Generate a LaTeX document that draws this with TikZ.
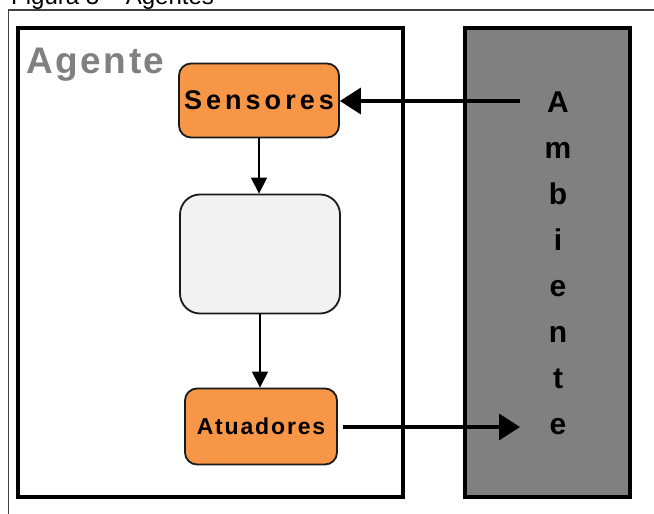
\documentclass[tikz,border=0pt]{standalone}
\usepackage{fontspec}
\setmainfont{Liberation Sans}
\newfontfamily\spacedA[LetterSpace=7]{Liberation Sans}
\newfontfamily\spacedB[LetterSpace=15]{Liberation Sans}
\newfontfamily\spacedC[LetterSpace=8]{Liberation Sans}
\usetikzlibrary{arrows.meta}
\definecolor{boxorange}{HTML}{F79646}
\definecolor{boxlight}{HTML}{F2F2F2}
\definecolor{envgray}{HTML}{808080}
\definecolor{edge}{HTML}{1A1A1A}
\tikzset{
  frameline/.style={draw=black!75, line width=1.3pt},
  bigbox/.style={draw=black, line width=3.6pt},
  orangebox/.style={draw=edge, line width=1.8pt, fill=boxorange, rounded corners=12pt,
    minimum width=160pt, inner sep=0pt, align=center},
  lightbox/.style={draw=edge, line width=1.8pt, fill=boxlight, rounded corners=20pt,
    minimum width=160pt, minimum height=119pt, inner sep=0pt},
  thinarrow/.style={draw=black, line width=1.2pt, -{Triangle[length=16pt,width=16pt]}},
  thickarrow/.style={draw=black, line width=3.5pt, -{Triangle[length=21pt,width=26pt]}},
  envletter/.style={anchor=base, inner sep=0pt, font=\fontsize{30}{30}\selectfont\bfseries},
}
\begin{document}
\begin{tikzpicture}[x=1pt, y=-1pt]
\useasboundingbox (0,0) rectangle (654,514);
% caption and page frame
\node[anchor=base west, inner sep=0pt, font=\fontsize{24}{24}\selectfont] (caption) at (11,5) {Figura 3 -- Agentes};
\draw[frameline] (654,10) -- (8.5,10) -- (8.5,514);
% agent and environment boxes
\draw[bigbox] (18,28) rectangle (403,497);
\draw[bigbox, fill=envgray] (465,28) rectangle (630,497);
\node[anchor=base west, inner sep=0pt, text=envgray, font=\fontsize{37}{37}\selectfont\spacedA\bfseries] (agente) at (26,73) {Agente};
% agent components
\node[orangebox, minimum height=74pt, font=\fontsize{27}{27}\selectfont\spacedB\bfseries] (sens) at (259,100.5) {Sensores};
\node[lightbox] (mid) at (260,254) {};
\node[orangebox, minimum width=152pt, minimum height=76pt, font=\fontsize{23}{23}\selectfont\spacedC\bfseries] (atu) at (261,426.5) {Atuadores};
% environment label, one letter per line
\foreach \ch [count=\i] in {A,m,b,i,e,n,t,e}
  \node[envletter] (amb\i) at (558,{112+46*(\i-1)}) {\ch};
% connectors
\coordinate (percept) at (520,101);
\coordinate (action) at (520,427);
\draw[thinarrow] (sens.south -| 259,0) -- (mid.north -| 259,0);
\draw[thinarrow] (mid.south -| 260,0) -- (atu.north -| 260,0);
\draw[thickarrow] (percept) -- (sens.east |- percept);
\draw[thickarrow, shorten <=5pt] (atu.east |- action) -- (action);
\end{tikzpicture}
\end{document}
